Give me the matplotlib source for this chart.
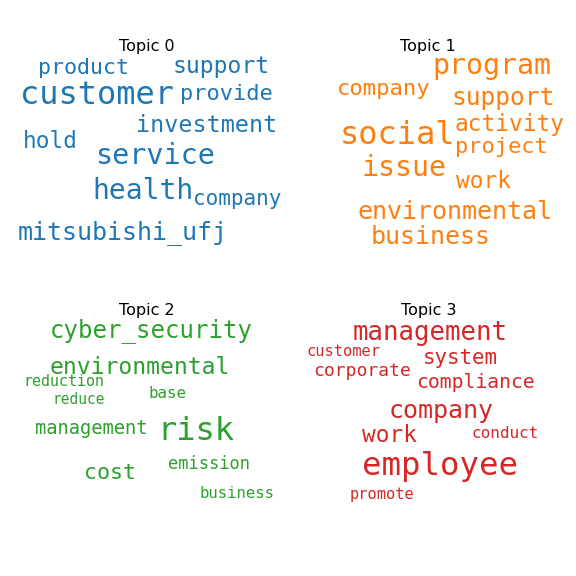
import matplotlib.pyplot as plt

# word lists and their sizes per topic
topics = ["Topic 0", "Topic 1", "Topic 2", "Topic 3"]
colors = ["#1f77b4", "#ff7f0e", "#2ca02c", "#d62728"]

words_0 = ["product", "support", "customer", "provide", "investment", "hold",
           "service", "health", "company", "mitsubishi_ufj"]
sizes_0 = [21.6, 23, 32, 22, 23.4, 22.8, 28.5, 28, 21, 25]

words_1 = ["program", "company", "support", "social", "activity", "project",
           "issue", "work", "environmental", "business"]
sizes_1 = [28.2, 22.3, 24.5, 32, 22.8, 22, 28.2, 22.8, 25, 25]

words_2 = ["cyber_security", "environmental", "reduction", "base", "reduce",
           "management", "risk", "cost", "emission", "business"]
sizes_2 = [24, 23, 15, 15.8, 14.5, 18.8, 32, 21.6, 17, 15.6]

words_3 = ["management", "customer", "system", "corporate", "compliance",
           "company", "work", "conduct", "employee", "promote"]
sizes_3 = [25.7, 15.4, 20.8, 18, 19.8, 25, 22.8, 16, 32.4, 15.4]

# word-cloud layout (pixel centres in a 576x576 canvas)
layout_0 = [(84, 68), (221, 67), (97, 96), (226, 94), (207, 125), (50, 141),
            (155, 156), (143, 191), (237, 199), (123, 233)]
layout_1 = [(492, 66), (384, 89), (503, 98), (397, 135), (509, 124), (501, 147),
            (404, 168), (483, 182), (455, 212), (431, 237)]
layout_2 = [(151, 331), (140, 368), (64, 382), (167, 394), (79, 399),
            (91, 429), (196, 431), (110, 473), (209, 464), (237, 493)]
layout_3 = [(430, 333), (344, 351), (460, 358), (362, 371), (475, 383),
            (441, 411), (389, 435), (505, 434), (440, 467), (382, 494)]
title_pos = [(147, 47), (428, 47), (147, 310), (429, 310)]

W = 576
fig = plt.figure(figsize=(8, 8), dpi=72)

groups = [(words_0, sizes_0, layout_0), (words_1, sizes_1, layout_1),
          (words_2, sizes_2, layout_2), (words_3, sizes_3, layout_3)]

for i, (words, sizes, layout) in enumerate(groups):
    tx, ty = title_pos[i]
    fig.text(tx / W, 1 - ty / W, topics[i], ha="center", va="center",
             fontsize=16, family="DejaVu Sans")
    for w, s, (x, y) in zip(words, sizes, layout):
        fig.text(x / W, 1 - y / W, w, ha="center", va="center", fontsize=s,
                 family="DejaVu Sans Mono", color=colors[i])

plt.savefig("out.png", dpi=72)
